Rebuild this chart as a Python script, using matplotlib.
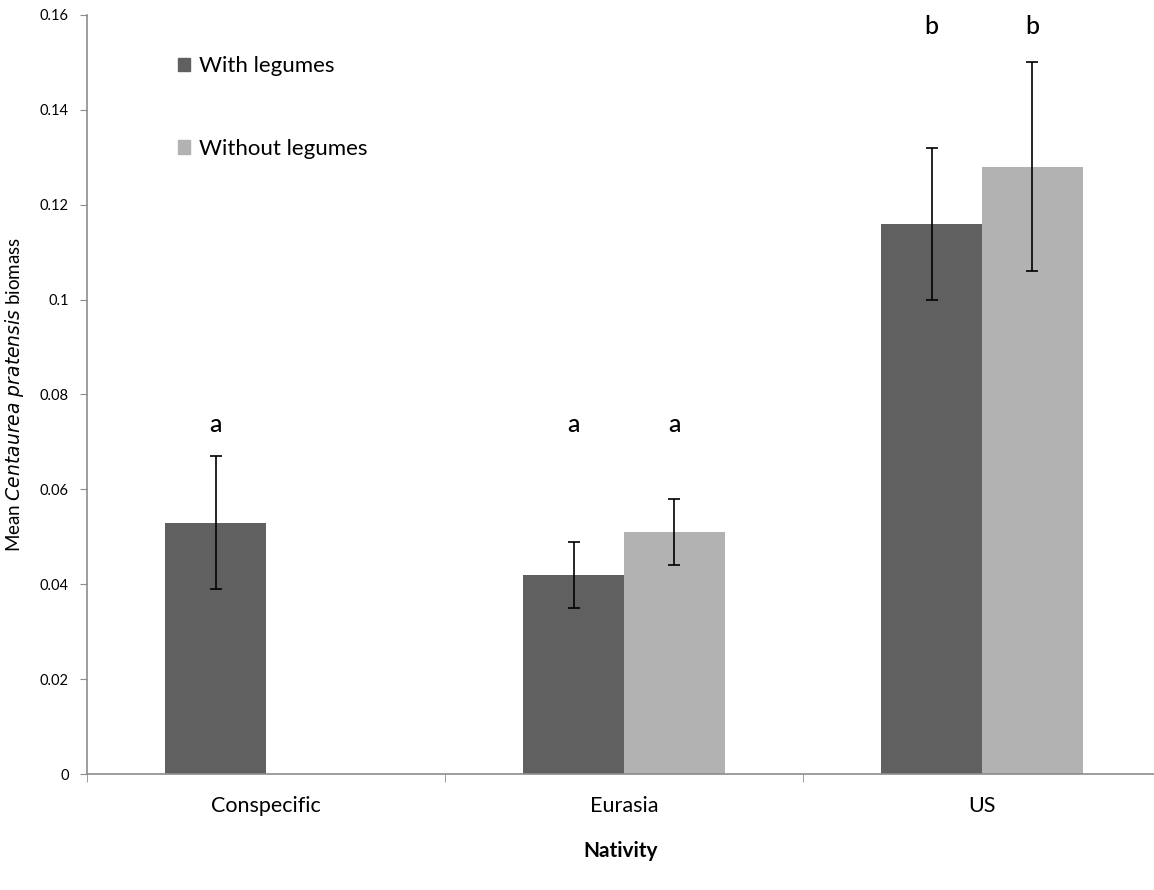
import matplotlib.pyplot as plt
import matplotlib.patches as mpatches
from matplotlib.ticker import FuncFormatter, FixedLocator

plt.rcParams["font.family"] = ["Lato", "DejaVu Sans"]

# data
categories = ["Conspecific", "Eurasia", "US"]
with_legumes = [0.053, 0.042, 0.116]
with_err = [0.014, 0.007, 0.016]
without_legumes = [None, 0.051, 0.128]
without_err = [None, 0.007, 0.022]
with_letters = ["a", "a", "b"]
without_letters = [None, "a", "b"]
with_letter_y = [0.0736, 0.0736, 0.1575]
without_letter_y = [None, 0.0736, 0.1575]

C_WITH = "#606060"
C_WITHOUT = "#b2b2b2"
C_AXIS = "#8c8c8c"

BAR_W = 0.282

fig = plt.figure(figsize=(11.54, 8.9), dpi=100)
ax = fig.add_axes([87 / 1154, 116 / 890, 1 - 87 / 1154, 759 / 890])

centers = [i + 0.5 for i in range(len(categories))]
for i, c in enumerate(centers):
    x = c - BAR_W / 2
    ax.bar(x, with_legumes[i], BAR_W, color=C_WITH, zorder=2)
    ax.errorbar(x, with_legumes[i], yerr=with_err[i], fmt="none",
                ecolor="black", elinewidth=1.2, capsize=4, capthick=1.2, zorder=3)
    ax.text(x, with_letter_y[i], with_letters[i], ha="center", va="center",
            fontsize=18, fontweight="medium")
    if without_legumes[i] is not None:
        x2 = c + BAR_W / 2
        ax.bar(x2, without_legumes[i], BAR_W, color=C_WITHOUT, zorder=2)
        ax.errorbar(x2, without_legumes[i], yerr=without_err[i], fmt="none",
                    ecolor="black", elinewidth=1.2, capsize=4, capthick=1.2,
                    zorder=3)
        ax.text(x2, without_letter_y[i], without_letters[i], ha="center",
                va="center", fontsize=18, fontweight="medium")

ax.set_xlim(0, (1154 - 87) / 358)
ax.set_ylim(0, 0.16)

ax.set_yticks([0, 0.02, 0.04, 0.06, 0.08, 0.1, 0.12, 0.14, 0.16])
ax.yaxis.set_major_formatter(FuncFormatter(lambda v, p: "%g" % round(v, 2)))
ax.tick_params(axis="y", direction="out", length=5, color=C_AXIS,
               labelsize=10.5, pad=8)

ax.set_xticks(centers)
ax.set_xticklabels(categories)
ax.xaxis.set_minor_locator(FixedLocator([0, 1, 2, 3]))
ax.tick_params(axis="x", which="major", length=0, labelsize=15.5, pad=16)
ax.tick_params(axis="x", which="minor", direction="out", length=6,
               color=C_AXIS)

for side in ["top", "right"]:
    ax.spines[side].set_visible(False)
for side in ["left", "bottom"]:
    ax.spines[side].set_color(C_AXIS)
    ax.spines[side].set_linewidth(1.2)

ax.set_ylabel("Mean $\\it{Centaurea\\ pratensis}$ biomass", fontsize=13.5,
              labelpad=10)
ax.set_xlabel("Nativity", fontsize=15, fontweight="bold", labelpad=18)

handles = [mpatches.Patch(color=C_WITH, label="With legumes"),
           mpatches.Patch(color=C_WITHOUT, label="Without legumes")]
ax.legend(handles=handles, loc="upper left", bbox_to_anchor=(0.075, 0.96),
          frameon=False, fontsize=16, handlelength=0.55, handleheight=0.55,
          handletextpad=0.4, labelspacing=2.8, borderpad=0)

fig.savefig("out.png", dpi=100)
